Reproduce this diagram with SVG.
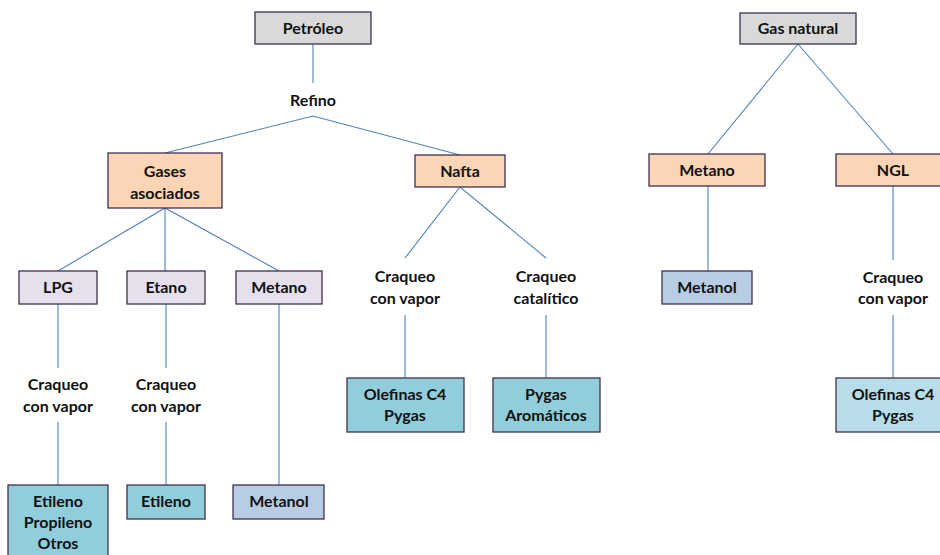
<svg xmlns="http://www.w3.org/2000/svg" width="940" height="555" viewBox="0 0 940 555">
<style>
.b{stroke:#3f3151;stroke-width:1.3}
.gray{fill:#d9d9d9}.peach{fill:#fbd5b5}.lav{fill:#e5e0ec}.blue{fill:#92cddc}.lblue{fill:#b7dde8}.steel{fill:#b8cce4}
text{font-family:Lato,"Liberation Sans",sans-serif;font-weight:bold;font-size:16px;fill:#111;text-anchor:middle}
.c line,.c polyline{stroke:#4f81bd;stroke-width:1.1;fill:none}
</style>
<rect width="940" height="555" fill="#fff"/>
<g class="c" id="connectors">
<line x1="313" y1="44" x2="313" y2="83"/>
<polyline points="165,153 313,116 460,155"/>
<polyline points="58,271 165,208 279,271"/>
<line x1="165" y1="208" x2="165" y2="271"/>
<line x1="58" y1="304" x2="58" y2="368"/>
<line x1="58" y1="422" x2="58" y2="485"/>
<line x1="166" y1="304" x2="166" y2="368"/>
<line x1="166" y1="422" x2="166" y2="485"/>
<line x1="279" y1="304" x2="279" y2="485"/>
<polyline points="405,258 460,187 546,258"/>
<line x1="405" y1="315" x2="405" y2="378"/>
<line x1="546" y1="315" x2="546" y2="378"/>
<polyline points="708,154 798,44 893,154"/>
<line x1="708" y1="186" x2="708" y2="271"/>
<line x1="893" y1="186" x2="893" y2="260"/>
<line x1="893" y1="315" x2="893" y2="378"/>
</g>
<g id="petroleo"><rect class="b gray" x="255" y="12" width="116" height="32"/><text x="313" y="34">Petróleo</text></g>
<g id="refino"><text x="313" y="106">Refino</text></g>
<g id="gases"><rect class="b peach" x="108" y="153" width="114" height="55"/><text x="165" y="177">Gases</text><text x="165" y="199">asociados</text></g>
<g id="nafta"><rect class="b peach" x="415" y="155" width="90" height="32"/><text x="460" y="177">Nafta</text></g>
<g id="lpg"><rect class="b lav" x="19" y="271" width="78" height="33"/><text x="58" y="293">LPG</text></g>
<g id="etano"><rect class="b lav" x="127" y="271" width="78" height="33"/><text x="166" y="293">Etano</text></g>
<g id="metano1"><rect class="b lav" x="236" y="271" width="86" height="33"/><text x="279" y="293">Metano</text></g>
<g id="craq1"><text x="58" y="390">Craqueo</text><text x="58" y="412">con vapor</text></g>
<g id="craq2"><text x="166" y="390">Craqueo</text><text x="166" y="412">con vapor</text></g>
<g id="etileno1"><rect class="b blue" x="8" y="485" width="100" height="75"/><text x="58" y="507">Etileno</text><text x="58" y="528">Propileno</text><text x="58" y="549">Otros</text></g>
<g id="etileno2"><rect class="b blue" x="127" y="485" width="78" height="34"/><text x="166" y="507">Etileno</text></g>
<g id="metanol1"><rect class="b steel" x="233" y="485" width="91" height="34"/><text x="279" y="507">Metanol</text></g>
<g id="craq3"><text x="405" y="282">Craqueo</text><text x="405" y="304">con vapor</text></g>
<g id="craq4"><text x="546" y="282">Craqueo</text><text x="546" y="304">catalítico</text></g>
<g id="olefinas1"><rect class="b blue" x="347" y="378" width="117" height="54"/><text x="405" y="400">Olefinas C4</text><text x="405" y="421">Pygas</text></g>
<g id="pygas"><rect class="b blue" x="493" y="378" width="107" height="54"/><text x="546" y="400">Pygas</text><text x="546" y="421">Aromáticos</text></g>
<g id="gasnatural"><rect class="b gray" x="740" y="13" width="116" height="31"/><text x="798" y="34">Gas natural</text></g>
<g id="metano2"><rect class="b peach" x="649" y="154" width="116" height="32"/><text x="707" y="176">Metano</text></g>
<g id="ngl"><rect class="b peach" x="836" y="154" width="110" height="32"/><text x="893" y="176">NGL</text></g>
<g id="metanol2"><rect class="b steel" x="662" y="271" width="90" height="33"/><text x="707" y="293">Metanol</text></g>
<g id="craq5"><text x="893" y="283">Craqueo</text><text x="893" y="304">con vapor</text></g>
<g id="olefinas2"><rect class="b lblue" x="836" y="378" width="110" height="54"/><text x="893" y="400">Olefinas C4</text><text x="893" y="421">Pygas</text></g>
</svg>
